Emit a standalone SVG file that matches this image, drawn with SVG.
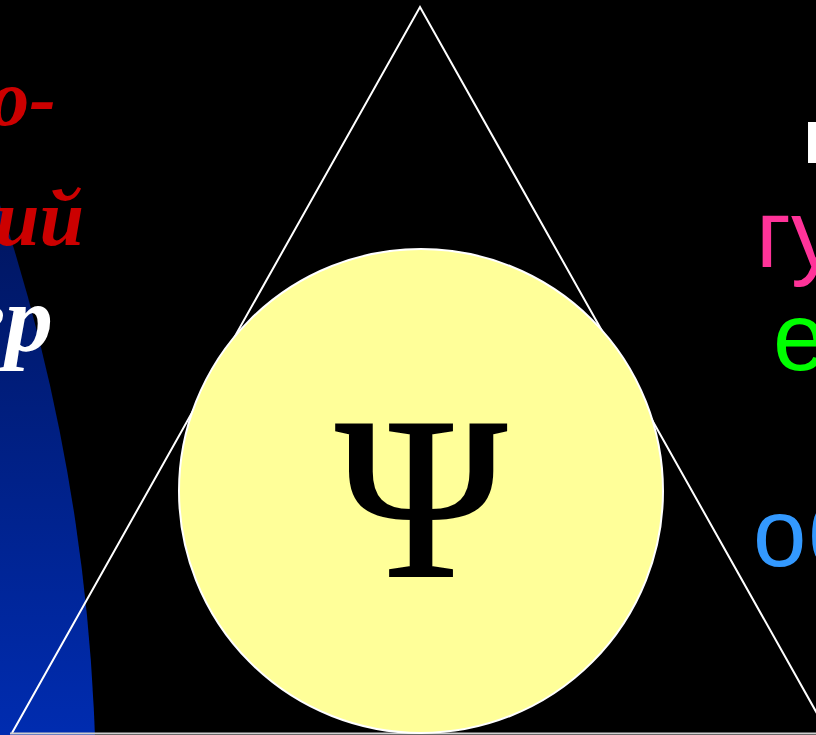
<svg xmlns="http://www.w3.org/2000/svg" width="816" height="735" viewBox="0 0 816 735">
  <defs>
    <linearGradient id="blueGrad" x1="0" y1="200" x2="0" y2="735" gradientUnits="userSpaceOnUse">
      <stop offset="0" stop-color="#00155e"/>
      <stop offset="1" stop-color="#002cb0"/>
    </linearGradient>
    <style>
      .lt { font-family: "Liberation Serif", "Times New Roman", serif; font-weight: bold; font-style: italic; text-anchor: end; }
      .rt { font-family: "Liberation Sans", Arial, sans-serif; font-size: 96px; }
    </style>
  </defs>
  <rect id="background" x="0" y="0" width="816" height="735" fill="#000000"/>
  <g id="blue-shape">
    <circle cx="-1796" cy="800" r="1892" fill="url(#blueGrad)"/>
  </g>
  <g id="left-text">
    <text class="lt" x="56" y="125" font-size="80" fill="#cc0000">о-</text>
    <text class="lt" x="84" y="245" font-size="80" fill="#cc0000">ий</text>
    <text class="lt" x="53" y="351" font-size="96" fill="#ffffff">ер</text>
  </g>
  <g id="triangle">
    <polyline points="828,733 420,7 12,733" fill="none" stroke="#ffffff" stroke-width="2"/>
    <line x1="10" y1="733.5" x2="816" y2="733.5" stroke="#d0d0d0" stroke-width="2"/>
  </g>
  <g id="circle">
    <circle cx="421" cy="491" r="242" fill="#ffff99" stroke="#ffffff" stroke-width="2"/>
    <text x="421" y="576" font-family="'Liberation Serif', 'Times New Roman', serif" font-size="232" text-anchor="middle" fill="#000000" stroke="#000000" stroke-width="2">Ψ</text>
  </g>
  <g id="right-text">
    <text x="804" y="163" font-family="'Liberation Sans', Arial, sans-serif" font-weight="bold" font-size="60" fill="#ffffff">П</text>
    <text class="rt" x="756" y="267" fill="#ff3399">гу</text>
    <text class="rt" x="773" y="370" fill="#00ff00">е</text>
    <text class="rt" x="753" y="566" fill="#3399ff">об</text>
  </g>
</svg>
